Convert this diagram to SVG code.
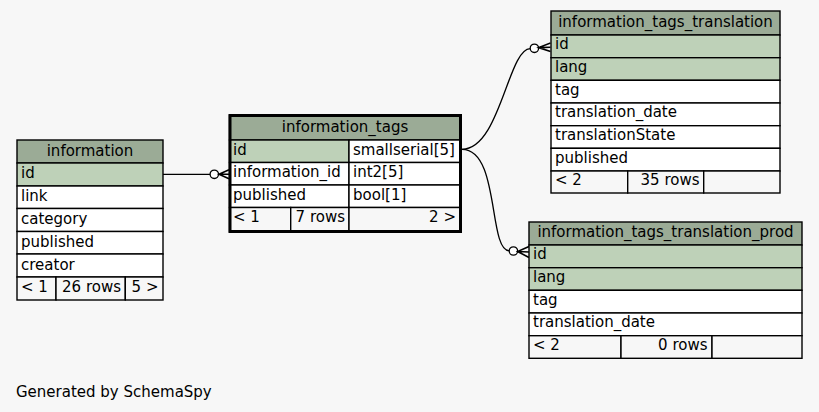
<svg xmlns="http://www.w3.org/2000/svg" width="819" height="412" viewBox="0 0 819 412">
<style>
text{font-family:"DejaVu Sans","Liberation Sans",sans-serif;font-size:15px;fill:#000}
.c{text-anchor:middle}
.r{text-anchor:end}
.hdr{fill:#9bab96;stroke:#000;stroke-width:1.4}
.pk{fill:#bed1b8;stroke:#000;stroke-width:1.4}
.row{fill:#fff;stroke:#000;stroke-width:1.4}
.ft{fill:#f7f7f7;stroke:#000;stroke-width:1.4}
.edge{fill:none;stroke:#000;stroke-width:1.3}
.dot{fill:#fff;stroke:#000;stroke-width:1.3}
.crow{fill:none;stroke:#000;stroke-width:1.6}
</style>
<rect x="0" y="0" width="819" height="412" fill="#f7f7f7"/>

<g id="connectors">
  <path class="edge" d="M163,174.3 L210,174.3"/>
  <circle class="dot" cx="214.3" cy="174.3" r="4.2"/>
  <path class="crow" d="M229,169.8 L219,174.3 L229,178.8 M219,174.3 L229,174.3"/>

  <path class="edge" d="M462,149.3 C500,149.3 508,49 530.2,48.7"/>
  <circle class="dot" cx="534.4" cy="48.3" r="4.2"/>
  <path class="crow" d="M550.5,43 L538.6,47.6 L550.5,51.5 M538.6,47.6 L550.5,47.3"/>

  <path class="edge" d="M462,149.3 C500,149.3 488,250 509.2,250.8"/>
  <circle class="dot" cx="513.4" cy="251" r="4.2"/>
  <path class="crow" d="M529,246.5 L517.6,251.5 L529,257.5 M517.6,251.5 L529,252"/>
</g>

<g id="information">
  <rect class="hdr" x="17" y="140" width="146" height="23"/>
  <text class="c" x="90" y="156">information</text>
  <rect class="pk" x="17" y="163" width="146" height="23"/>
  <text x="21" y="178">id</text>
  <rect class="row" x="17" y="186" width="146" height="22.5"/>
  <text x="21" y="201">link</text>
  <rect class="row" x="17" y="208.5" width="146" height="23"/>
  <text x="21" y="224">category</text>
  <rect class="row" x="17" y="231.5" width="146" height="22.5"/>
  <text x="21" y="246.5">published</text>
  <rect class="row" x="17" y="254" width="146" height="23"/>
  <text x="21" y="269.5">creator</text>
  <rect class="ft" x="17" y="277" width="39" height="23"/>
  <rect class="ft" x="56" y="277" width="69.3" height="23"/>
  <rect class="ft" x="125.3" y="277" width="37.7" height="23"/>
  <text x="21" y="291.7">&lt; 1</text>
  <text class="r" x="121" y="291.7">26 rows</text>
  <text class="r" x="158.5" y="291.7">5 &gt;</text>
</g>

<g id="information_tags">
  <rect class="hdr" x="229.5" y="115.5" width="231" height="24.5"/>
  <text class="c" x="345" y="132">information_tags</text>
  <rect class="pk" x="229.5" y="140" width="119.5" height="22.5"/>
  <rect class="row" x="349" y="140" width="111.5" height="22.5"/>
  <text x="233" y="154.5">id</text>
  <text x="353" y="154.5">smallserial[5]</text>
  <rect class="row" x="229.5" y="162.5" width="119.5" height="22.5"/>
  <rect class="row" x="349" y="162.5" width="111.5" height="22.5"/>
  <text x="233" y="177.2">information_id</text>
  <text x="353" y="177.2">int2[5]</text>
  <rect class="row" x="229.5" y="185" width="119.5" height="22.5"/>
  <rect class="row" x="349" y="185" width="111.5" height="22.5"/>
  <text x="233" y="199.8">published</text>
  <text x="353" y="199.8">bool[1]</text>
  <rect class="ft" x="229.5" y="207.5" width="61.2" height="24"/>
  <rect class="ft" x="290.7" y="207.5" width="58.3" height="24"/>
  <rect class="ft" x="349" y="207.5" width="111.5" height="24"/>
  <text x="233" y="221.8">&lt; 1</text>
  <text class="r" x="345" y="221.8">7 rows</text>
  <text class="r" x="456" y="221.8">2 &gt;</text>
  <rect x="230" y="115.5" width="230.5" height="116" fill="none" stroke="#000" stroke-width="3"/>
</g>

<g id="information_tags_translation">
  <rect class="hdr" x="551" y="11" width="229" height="24"/>
  <text class="c" x="665.5" y="27">information_tags_translation</text>
  <rect class="pk" x="551" y="35" width="229" height="22.7"/>
  <text x="555" y="49.3">id</text>
  <rect class="pk" x="551" y="57.7" width="229" height="22.6"/>
  <text x="555" y="72">lang</text>
  <rect class="row" x="551" y="80.3" width="229" height="22.7"/>
  <text x="555" y="94.6">tag</text>
  <rect class="row" x="551" y="103" width="229" height="22.7"/>
  <text x="555" y="117.3">translation_date</text>
  <rect class="row" x="551" y="125.7" width="229" height="22.6"/>
  <text x="555" y="140">translationState</text>
  <rect class="row" x="551" y="148.3" width="229" height="22.7"/>
  <text x="555" y="162.6">published</text>
  <rect class="ft" x="551" y="171" width="76.7" height="22"/>
  <rect class="ft" x="627.7" y="171" width="76" height="22"/>
  <rect class="ft" x="703.7" y="171" width="76.3" height="22"/>
  <text x="555" y="185.3">&lt; 2</text>
  <text class="r" x="699.5" y="185.3">35 rows</text>
</g>

<g id="information_tags_translation_prod">
  <rect class="hdr" x="529" y="222" width="273" height="23"/>
  <text class="c" x="665.5" y="237">information_tags_translation_prod</text>
  <rect class="pk" x="529" y="245" width="273" height="22.7"/>
  <text x="533" y="259.3">id</text>
  <rect class="pk" x="529" y="267.7" width="273" height="22.6"/>
  <text x="533" y="282">lang</text>
  <rect class="row" x="529" y="290.3" width="273" height="22.7"/>
  <text x="533" y="304.6">tag</text>
  <rect class="row" x="529" y="313" width="273" height="22.7"/>
  <text x="533" y="327.3">translation_date</text>
  <rect class="ft" x="529" y="335.7" width="92" height="22.6"/>
  <rect class="ft" x="621" y="335.7" width="91" height="22.6"/>
  <rect class="ft" x="712" y="335.7" width="90" height="22.6"/>
  <text x="533" y="350">&lt; 2</text>
  <text class="r" x="707.5" y="350">0 rows</text>
</g>

<text x="16" y="397">Generated by SchemaSpy</text>
</svg>
